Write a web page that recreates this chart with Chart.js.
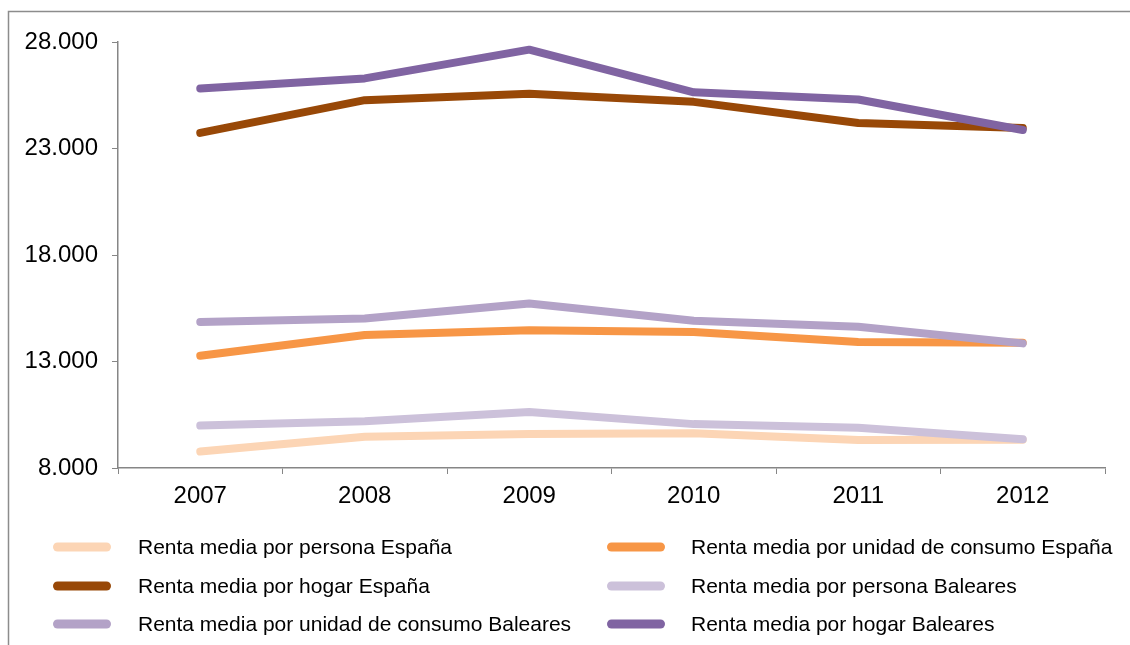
<!DOCTYPE html>
<html>
<head>
<meta charset="utf-8">
<script src="https://cdn.jsdelivr.net/npm/chart.js@4/dist/chart.umd.min.js"></script>
<style>
  html, body { margin: 0; padding: 0; background: #fff; }
  #wrap { position: relative; width: 1130px; height: 645px; }
</style>
</head>
<body>
<div id="wrap"><canvas id="chart" width="1130" height="645"></canvas></div>
<script>
// Data
const years = ["2007", "2008", "2009", "2010", "2011", "2012"];
const personaEspana = [8770, 9470, 9600, 9630, 9320, 9330];
const unidadEspana = [13270, 14240, 14470, 14390, 13920, 13880];
const hogarEspana = [23730, 25270, 25570, 25190, 24200, 23960];
const personaBaleares = [9990, 10200, 10630, 10060, 9890, 9350];
const unidadBaleares = [14860, 15020, 15720, 14910, 14630, 13850];
const hogarBaleares = [25820, 26290, 27640, 25640, 25300, 23870];
const yTicks = [8000, 13000, 18000, 23000, 28000];

const FONT = "'Liberation Sans', Arial, sans-serif";
const AXIS_GREY = "#868686";

// "28000" -> "28.000"
function formatThousands(v) {
  return String(v).replace(/\B(?=(\d{3})+(?!\d))/g, ".");
}

function series(label, data, color, order) {
  return {
    label: label,
    data: data,
    borderColor: color,
    backgroundColor: color,
    borderWidth: 8,
    borderCapStyle: "round",
    borderJoinStyle: "round",
    pointRadius: 0,
    tension: 0,
    fill: false,
    order: order,
  };
}

// legend laid out in two columns, like the original
const legendPlugin = {
  id: "twoColLegend",
  afterDraw(chart) {
    const ctx = chart.ctx;
    const cols = [
      { x1: 53, x2: 111, tx: 138 },
      { x1: 607, x2: 665, tx: 691 },
    ];
    const rows = [547, 586, 624];
    ctx.save();
    ctx.font = "21px " + FONT;
    ctx.textBaseline = "middle";
    chart.data.datasets.forEach((ds, i) => {
      const c = cols[i % 2];
      const y = rows[Math.floor(i / 2)];
      ctx.strokeStyle = ds.borderColor;
      ctx.lineWidth = 9;
      ctx.lineCap = "round";
      ctx.beginPath();
      ctx.moveTo(c.x1 + 4.5, y);
      ctx.lineTo(c.x2 - 4.5, y);
      ctx.stroke();
      ctx.fillStyle = "#000";
      ctx.fillText(ds.label, c.tx, y + 1);
    });
    ctx.restore();
  },
};

// grey frame on the left and top edges
const framePlugin = {
  id: "frame",
  beforeDraw(chart) {
    const ctx = chart.ctx;
    ctx.save();
    ctx.strokeStyle = "#8c8c8c";
    ctx.lineWidth = 1.5;
    ctx.beginPath();
    ctx.moveTo(8.5, 645);
    ctx.lineTo(8.5, 11.5);
    ctx.lineTo(1130, 11.5);
    ctx.stroke();
    ctx.restore();
  },
};

const chart = new Chart(document.getElementById("chart"), {
  type: "line",
  data: {
    labels: years,
    datasets: [
      series("Renta media por persona España", personaEspana, "#FCD5B5", 6),
      series("Renta media por unidad de consumo España", unidadEspana, "#F79646", 5),
      series("Renta media por hogar España", hogarEspana, "#984807", 4),
      series("Renta media por persona Baleares", personaBaleares, "#CCC1DA", 3),
      series("Renta media por unidad de consumo Baleares", unidadBaleares, "#B3A2C7", 2),
      series("Renta media por hogar Baleares", hogarBaleares, "#8064A2", 1),
    ],
  },
  options: {
    responsive: false,
    animation: false,
    layout: { padding: { top: 42, right: 25, left: 0, bottom: 0 } },
    plugins: {
      legend: { display: false },
      tooltip: { enabled: false },
    },
    scales: {
      x: {
        offset: true,
        grid: {
          display: true,
          drawOnChartArea: false,
          offset: true,
          tickLength: 6,
          color: AXIS_GREY,
        },
        border: { color: AXIS_GREY, width: 1.5 },
        ticks: {
          color: "#000",
          font: { family: FONT, size: 24 },
          padding: 8,
          maxRotation: 0,
        },
        afterFit(scale) {
          scale.height = 645 - 468;
        },
      },
      y: {
        min: 8000,
        max: 28000,
        grid: {
          display: true,
          drawOnChartArea: false,
          tickLength: 6,
          color: AXIS_GREY,
        },
        border: { color: AXIS_GREY, width: 1.5 },
        afterBuildTicks(scale) {
          scale.ticks = yTicks.map((v) => ({ value: v }));
        },
        ticks: {
          color: "#000",
          font: { family: FONT, size: 24 },
          padding: 14,
          callback: (v) => formatThousands(v),
        },
        afterFit(scale) {
          scale.width = 118;
        },
      },
    },
  },
  plugins: [framePlugin, legendPlugin],
});
</script>
</body>
</html>
